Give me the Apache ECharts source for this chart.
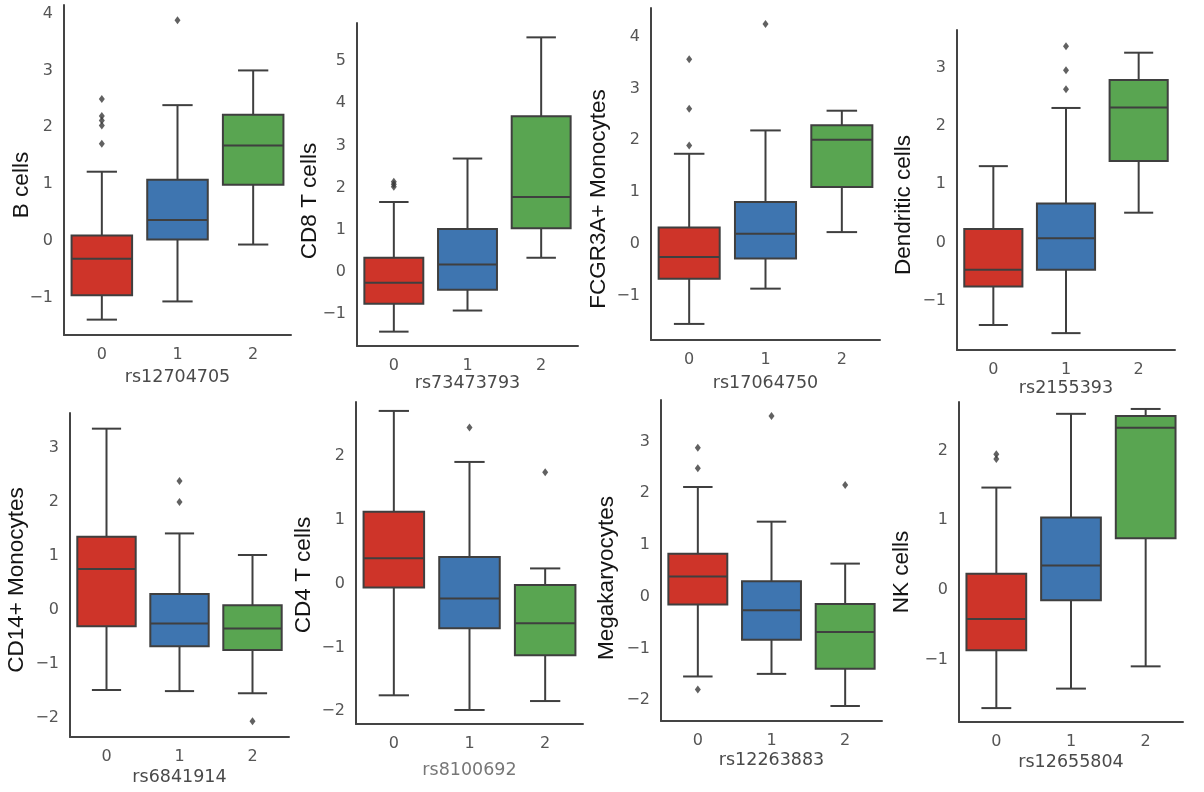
<!DOCTYPE html>
<html>
<head>
<meta charset="utf-8">
<script src="https://cdn.jsdelivr.net/npm/echarts@6/dist/echarts.min.js"></script>
<style>
html,body{margin:0;padding:0;background:#fff;}
#chart{width:1204px;height:792px;}
</style>
</head>
<body>
<div id="chart"></div>
<script>
// ---- data ----
const genotypes = ['0', '1', '2'];
const cellTypes = ['B cells', 'CD8 T cells', 'FCGR3A+ Monocytes', 'Dendritic cells',
                   'CD14+ Monocytes', 'CD4 T cells', 'Megakaryocytes', 'NK cells'];
const snps = ['rs12704705', 'rs73473793', 'rs17064750', 'rs2155393',
              'rs6841914', 'rs8100692', 'rs12263883', 'rs12655804'];

// box stats per genotype: [lower whisker, Q1, median, Q3, upper whisker]
const bCellsBoxes = [[-1.38, -0.95, -0.31, 0.10, 1.22], [-1.06, 0.03, 0.37, 1.08, 2.39], [-0.06, 0.99, 1.68, 2.22, 3.00]];
const bCellsOutliers = [[0, 2.50], [0, 2.20], [0, 2.12], [0, 2.03], [0, 1.71], [1, 3.88]];

const cd8Boxes = [[-1.41, -0.75, -0.25, 0.34, 1.66], [-0.91, -0.42, 0.18, 1.02, 2.69], [0.34, 1.04, 1.78, 3.69, 5.56]];
const cd8Outliers = [[0, 2.02], [0, 2.08], [0, 2.14]];

const fcgrBoxes = [[-1.54, -0.67, -0.25, 0.32, 1.74], [-0.86, -0.28, 0.20, 0.81, 2.19], [0.23, 1.10, 2.01, 2.29, 2.57]];
const fcgrOutliers = [[0, 3.56], [0, 2.61], [0, 1.90], [1, 4.24]];

const dendriticBoxes = [[-1.42, -0.76, -0.47, 0.23, 1.31], [-1.56, -0.47, 0.07, 0.67, 2.31], [0.51, 1.40, 2.32, 2.79, 3.26]];
const dendriticOutliers = [[1, 3.37], [1, 2.96], [1, 2.63]];

const cd14Boxes = [[-1.48, -0.30, 0.76, 1.36, 3.36], [-1.50, -0.67, -0.25, 0.30, 1.42], [-1.54, -0.74, -0.34, 0.09, 1.02]];
const cd14Outliers = [[1, 2.39], [1, 2.00], [2, -2.06]];

const cd4Boxes = [[-1.75, -0.06, 0.40, 1.13, 2.71], [-1.98, -0.70, -0.23, 0.42, 1.91], [-1.84, -1.12, -0.62, -0.02, 0.24]];
const cd4Outliers = [[1, 2.45], [2, 1.75]];

const megaBoxes = [[-1.54, -0.15, 0.39, 0.83, 2.12], [-1.49, -0.83, -0.26, 0.30, 1.45], [-2.11, -1.39, -0.68, -0.14, 0.64]];
const megaOutliers = [[0, 2.88], [0, 2.48], [0, -1.79], [1, 3.49], [2, 2.16]];

const nkBoxes = [[-1.70, -0.87, -0.42, 0.23, 1.47], [-1.42, -0.15, 0.35, 1.04, 2.53], [-1.10, 0.74, 2.33, 2.50, 2.60]];
const nkOutliers = [[0, 1.88], [0, 1.95]];

const allBoxes = [bCellsBoxes, cd8Boxes, fcgrBoxes, dendriticBoxes, cd14Boxes, cd4Boxes, megaBoxes, nkBoxes];
const allOutliers = [bCellsOutliers, cd8Outliers, fcgrOutliers, dendriticOutliers, cd14Outliers, cd4Outliers, megaOutliers, nkOutliers];

// ---- layout (positions / axis extents) ----
const layout = [
  {left: 64,  top: 5,   width: 227, height: 330, yMin: -1.65, yMax: 4.15, nameGap: 33, labX: 22,  labY: 185, nameColor: '#4a4a4a'},
  {left: 357, top: 23,  width: 221, height: 323, yMin: -1.75, yMax: 5.90, nameGap: 28, labX: 310, labY: 201, nameColor: '#4a4a4a'},
  {left: 651, top: 8,   width: 229, height: 332, yMin: -1.85, yMax: 4.55, nameGap: 34, labX: 599, labY: 199, nameColor: '#4a4a4a'},
  {left: 957, top: 30,  width: 218, height: 320, yMin: -1.85, yMax: 3.65, nameGap: 29, labX: 904, labY: 205, nameColor: '#4a4a4a'},
  {left: 70,  top: 413, width: 219, height: 324, yMin: -2.35, yMax: 3.65, nameGap: 31, labX: 17,  labY: 580, nameColor: '#4a4a4a'},
  {left: 356, top: 402, width: 227, height: 322, yMin: -2.20, yMax: 2.85, nameGap: 37, labX: 304, labY: 575, nameColor: '#777777'},
  {left: 661, top: 400, width: 221, height: 321, yMin: -2.40, yMax: 3.80, nameGap: 30, labX: 607, labY: 578, nameColor: '#4a4a4a'},
  {left: 959, top: 402, width: 224, height: 320, yMin: -1.90, yMax: 2.70, nameGap: 31, labX: 902, labY: 572, nameColor: '#4a4a4a'}
];

const boxColors = ['#ce3429', '#3e75b0', '#59a551'];
const edgeColor = '#3f3f3f';
const axisColor = '#444444';
const tickFont = 'DejaVu Sans';

function intLabel(v) {
  const r = Math.round(v);
  if (Math.abs(v - r) > 1e-6) return '';
  return r < 0 ? '\u2212' + (-r) : String(r);
}

function renderBox(params, api) {
  const idx = api.value(0);
  const lo = api.value(1), q1 = api.value(2), med = api.value(3), q3 = api.value(4), hi = api.value(5);
  const cx = api.coord([idx, 0])[0];
  const band = api.size([1, 0])[0];
  const half = band * 0.4;
  const cap = band * 0.2;
  const y = v => api.coord([idx, v])[1];
  const ls = {stroke: edgeColor, lineWidth: 2};
  return {
    type: 'group',
    children: [
      {type: 'line', shape: {x1: cx, y1: y(lo), x2: cx, y2: y(q1)}, style: ls},
      {type: 'line', shape: {x1: cx, y1: y(q3), x2: cx, y2: y(hi)}, style: ls},
      {type: 'line', shape: {x1: cx - cap, y1: y(lo), x2: cx + cap, y2: y(lo)}, style: ls},
      {type: 'line', shape: {x1: cx - cap, y1: y(hi), x2: cx + cap, y2: y(hi)}, style: ls},
      {type: 'rect', shape: {x: cx - half, y: y(q3), width: 2 * half, height: y(q1) - y(q3)},
       style: {fill: boxColors[idx], stroke: edgeColor, lineWidth: 2}},
      {type: 'line', shape: {x1: cx - half, y1: y(med), x2: cx + half, y2: y(med)}, style: ls}
    ]
  };
}

const grids = [], xAxes = [], yAxes = [], series = [], graphics = [];
layout.forEach((L, i) => {
  grids.push({left: L.left, top: L.top, width: L.width, height: L.height});
  xAxes.push({
    type: 'category', gridIndex: i, data: genotypes, boundaryGap: true,
    axisLine: {show: true, onZero: false, lineStyle: {color: axisColor, width: 2}},
    axisTick: {show: false},
    splitLine: {show: false},
    axisLabel: {margin: 12, fontSize: 16, color: '#555', fontFamily: tickFont},
    name: snps[i], nameLocation: 'middle', nameGap: L.nameGap,
    nameTextStyle: {fontSize: 17.5, color: L.nameColor, fontFamily: tickFont}
  });
  yAxes.push({
    type: 'value', gridIndex: i, min: L.yMin, max: L.yMax, interval: 0.05,
    axisLine: {show: true, lineStyle: {color: axisColor, width: 2}},
    axisTick: {show: false},
    splitLine: {show: false},
    axisLabel: {margin: 11, fontSize: 16, color: '#555', fontFamily: tickFont, formatter: intLabel}
  });
  series.push({
    type: 'custom', xAxisIndex: i, yAxisIndex: i,
    data: allBoxes[i].map((b, k) => [k].concat(b)),
    encode: {x: 0, y: [1, 2, 3, 4, 5]},
    renderItem: renderBox, clip: false, z: 2
  });
  series.push({
    type: 'scatter', xAxisIndex: i, yAxisIndex: i,
    data: allOutliers[i],
    symbol: 'diamond', symbolSize: [6, 8],
    itemStyle: {color: '#3a3a3a'}, z: 3
  });
  graphics.push({
    type: 'text', x: L.labX, y: L.labY, rotation: Math.PI / 2,
    style: {text: cellTypes[i], fontSize: 22.5, fontFamily: 'Liberation Sans', fill: '#151515',
            align: 'center', verticalAlign: 'middle'}
  });
});

const chart = echarts.init(document.getElementById('chart'));
chart.setOption({
  animation: false,
  backgroundColor: '#ffffff',
  grid: grids,
  xAxis: xAxes,
  yAxis: yAxes,
  series: series,
  graphic: graphics
});
</script>
</body>
</html>
